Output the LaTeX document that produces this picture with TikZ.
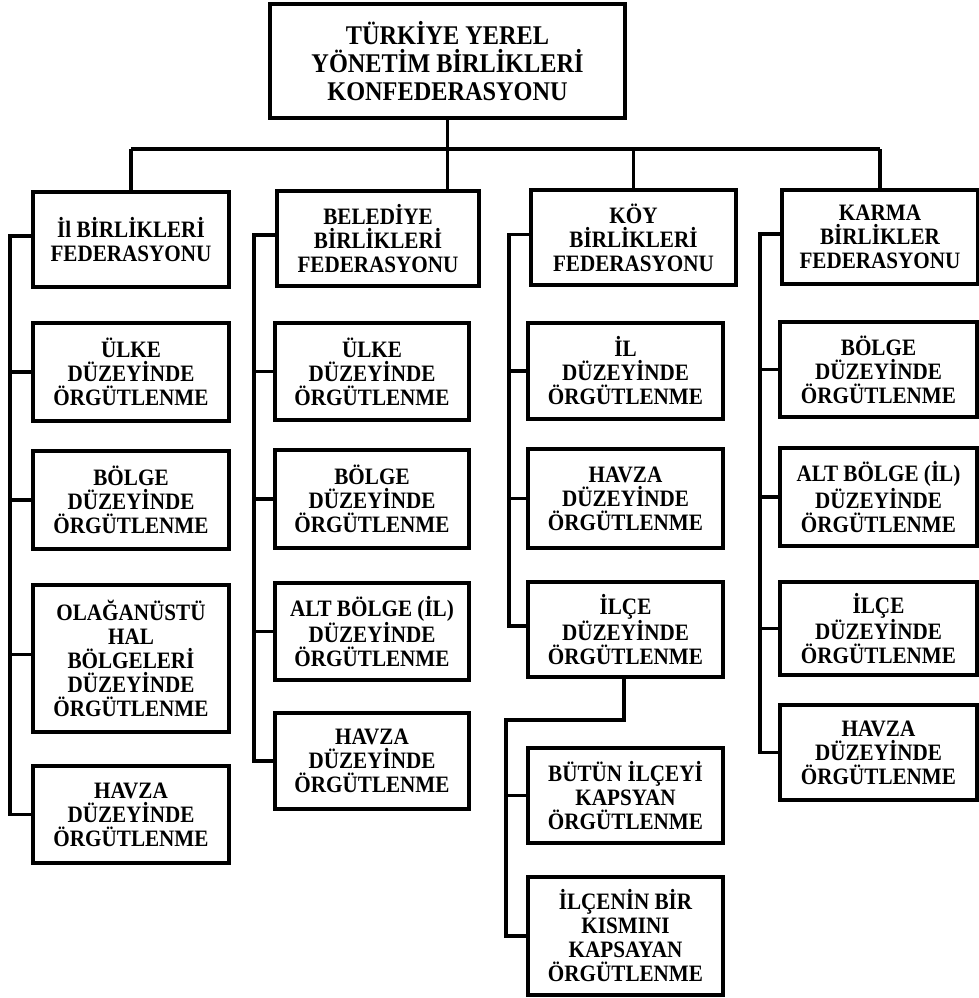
\documentclass[tikz,border=0pt]{standalone}
\usepackage{fontspec}
\setmainfont{Liberation Serif}[FakeStretch=0.9]
\begin{document}
\begin{tikzpicture}[x=1pt,y=-1pt,
  box/.style={draw, line width=3.4pt, align=center, inner sep=0pt,
    font=\bfseries\fontsize{23.5}{24}\selectfont},
  topbox/.style={box, font=\bfseries\fontsize{27}{28}\selectfont},
  conn/.style={line width=3.4pt, line join=miter}]
\fill[white] (0,0) rectangle (979,998);
\useasboundingbox (0,0) rectangle (979,998);

% top
\node[topbox, minimum width=355pt, minimum height=114pt] (top) at (447.5,61)
  {TÜRKİYE YEREL\\YÖNETİM BİRLİKLERİ\\KONFEDERASYONU};

% federations
\node[box, minimum width=196pt, minimum height=95pt] (f1) at (131,239.5) {İl BİRLİKLERİ\\FEDERASYONU};
\node[box, minimum width=202pt, minimum height=95pt] (f2) at (378,238.5) {BELEDİYE\\BİRLİKLERİ\\FEDERASYONU};
\node[box, minimum width=205pt, minimum height=95pt] (f3) at (633.5,237.5) {KÖY\\BİRLİKLERİ\\FEDERASYONU};
\node[box, minimum width=196pt, minimum height=94pt] (f4) at (880,237) {KARMA\\BİRLİKLER\\FEDERASYONU};

% column 1
\node[box, minimum width=196pt, minimum height=98pt] (u1) at (131,372) {ÜLKE\\DÜZEYİNDE\\ÖRGÜTLENME};
\node[box, minimum width=196pt, minimum height=98pt] (b1) at (131,500) {BÖLGE\\DÜZEYİNDE\\ÖRGÜTLENME};
\node[box, minimum width=196pt, minimum height=147pt] (o1) at (131,658.5) {OLAĞANÜSTÜ\\HAL\\BÖLGELERİ\\DÜZEYİNDE\\ÖRGÜTLENME};
\node[box, minimum width=196pt, minimum height=97pt] (h1) at (131,814.5) {HAVZA\\DÜZEYİNDE\\ÖRGÜTLENME};

% column 2
\node[box, minimum width=194pt, minimum height=97pt] (u2) at (372,371.5) {ÜLKE\\DÜZEYİNDE\\ÖRGÜTLENME};
\node[box, minimum width=194pt, minimum height=98pt] (b2) at (372,499) {BÖLGE\\DÜZEYİNDE\\ÖRGÜTLENME};
\node[box, minimum width=194pt, minimum height=97pt] (a2) at (372,631.5) {ALT BÖLGE (İL)\\DÜZEYİNDE\\ÖRGÜTLENME};
\node[box, minimum width=194pt, minimum height=96pt] (h2) at (372,761) {HAVZA\\DÜZEYİNDE\\ÖRGÜTLENME};

% column 3
\node[box, minimum width=195pt, minimum height=96pt] (i3) at (625.5,371) {İL\\DÜZEYİNDE\\ÖRGÜTLENME};
\node[box, minimum width=195pt, minimum height=99pt] (h3) at (625.5,498.5) {HAVZA\\DÜZEYİNDE\\ÖRGÜTLENME};
\node[box, minimum width=195pt, minimum height=95pt] (c3) at (625.5,629.5) {İLÇE\\DÜZEYİNDE\\ÖRGÜTLENME};
\node[box, minimum width=195pt, minimum height=95pt] (t3) at (625.5,795.5) {BÜTÜN İLÇEYİ\\KAPSYAN\\ÖRGÜTLENME};
\node[box, minimum width=195pt, minimum height=118pt] (n3) at (625.5,936) {İLÇENİN BİR\\KISMINI\\KAPSAYAN\\ÖRGÜTLENME};

% column 4
\node[box, minimum width=197pt, minimum height=95pt] (b4) at (878.5,369.5) {BÖLGE\\DÜZEYİNDE\\ÖRGÜTLENME};
\node[box, minimum width=197pt, minimum height=98pt] (a4) at (878.5,497) {ALT BÖLGE (İL)\\DÜZEYİNDE\\ÖRGÜTLENME};
\node[box, minimum width=197pt, minimum height=93pt] (c4) at (878.5,628.5) {İLÇE\\DÜZEYİNDE\\ÖRGÜTLENME};
\node[box, minimum width=197pt, minimum height=95pt] (h4) at (878.5,752.5) {HAVZA\\DÜZEYİNDE\\ÖRGÜTLENME};

% spine coordinates
\coordinate (bar) at (0,149);
\coordinate (s1) at (10,0);
\coordinate (s2) at (254,0);
\coordinate (s3) at (509,0);
\coordinate (s4) at (760,0);
\coordinate (k3) at (506,720);

% top connectors
\draw[conn] (top.south) -- (top.south |- bar);
\draw[conn] (f1.north |- bar) -- (f4.north |- bar);
\draw[conn] (f1.north |- bar) -- (f1.north);
\draw[conn] (top.south |- bar) -- (top.south |- f2.north);
\draw[conn] (f3.north |- bar) -- (f3.north);
\draw[conn] (f4.north |- bar) -- (f4.north);

% column 1
\draw[conn] ([yshift=3.5pt]f1.west) -| (s1 |- h1.west) -- (h1.west);
\draw[conn] (s1 |- u1.west) -- (u1.west);
\draw[conn] (s1 |- b1.west) -- (b1.west);
\draw[conn] ([yshift=4pt]s1 |- o1.west) -- ([yshift=4pt]o1.west);

% column 2
\draw[conn] ([yshift=3.5pt]f2.west) -| (s2 |- h2.west) -- (h2.west);
\draw[conn] (s2 |- u2.west) -- (u2.west);
\draw[conn] (s2 |- b2.west) -- (b2.west);
\draw[conn] (s2 |- a2.west) -- (a2.west);

% column 3
\draw[conn] ([yshift=3pt]f3.west) -| ([yshift=3.5pt]s3 |- c3.west) -- ([yshift=3.5pt]c3.west);
\draw[conn] (s3 |- i3.west) -- (i3.west);
\draw[conn] (s3 |- h3.west) -- (h3.west);
\draw[conn] ([xshift=-1.5pt]c3.south) |- (k3) |- (n3.west);
\draw[conn] (k3 |- t3.west) -- (t3.west);

% column 4
\draw[conn] ([yshift=3pt]f4.west) -| (s4 |- h4.west) -- (h4.west);
\draw[conn] (s4 |- b4.west) -- (b4.west);
\draw[conn] (s4 |- a4.west) -- (a4.west);
\draw[conn] (s4 |- c4.west) -- (c4.west);
\end{tikzpicture}
\end{document}
